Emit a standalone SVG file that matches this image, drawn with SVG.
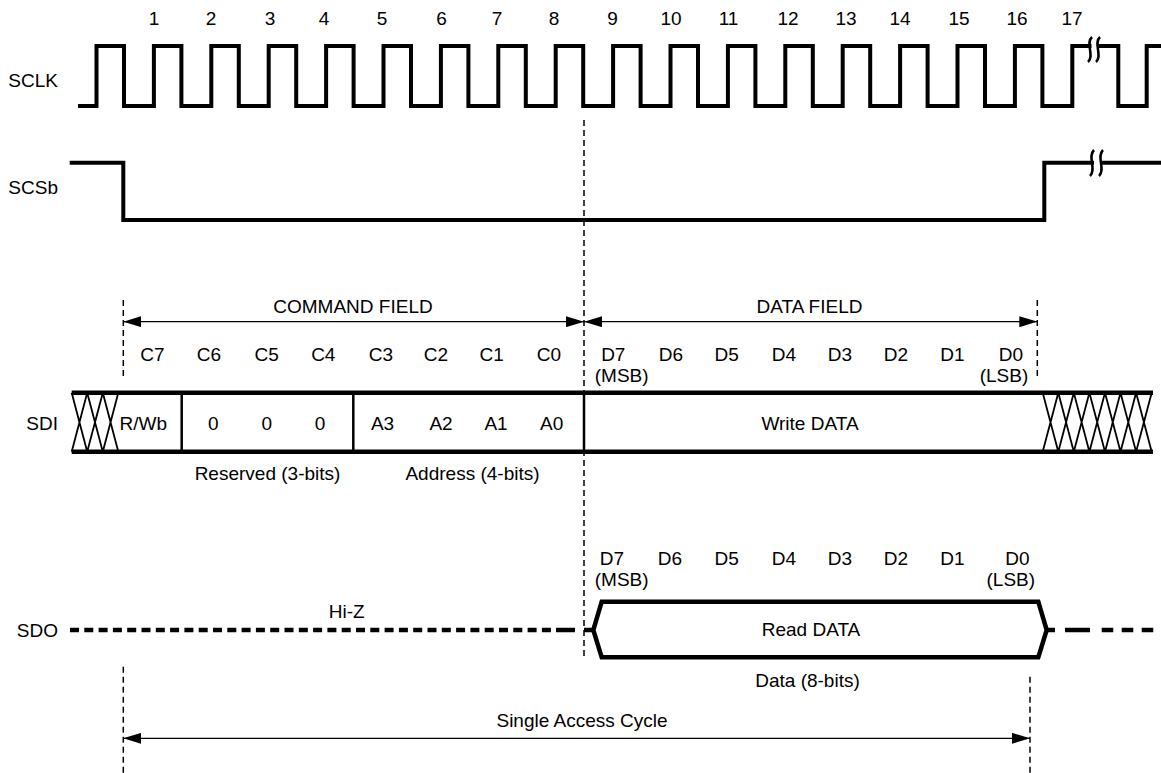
<svg xmlns="http://www.w3.org/2000/svg" width="1161" height="773" viewBox="0 0 1161 773">
<style>
text{font-family:"Liberation Sans",Arial,sans-serif;font-size:19px;fill:#000;text-anchor:middle}
.lbl{text-anchor:end}
.st{text-anchor:start}
.sig{fill:none;stroke:#000;stroke-width:4;stroke-linejoin:miter;stroke-linecap:square}
.bus{fill:none;stroke:#000;stroke-width:4.5}
.div{stroke:#000;stroke-width:2.5}
.hatch{stroke:#000;stroke-width:1.8;fill:none}
.guide{stroke:#000;stroke-width:1.5;stroke-dasharray:6 4;fill:none}
.arr{stroke:#000;stroke-width:1.3;fill:none;marker-start:url(#ah);marker-end:url(#ah)}
.brk{fill:none;stroke:#000;stroke-width:2.5}
</style>
<defs>
<marker id="ah" viewBox="0 0 18 11" refX="18" refY="5.5" markerWidth="18" markerHeight="11" markerUnits="userSpaceOnUse" orient="auto-start-reverse">
<path d="M0,0 L18,5.5 L0,11 Z" fill="#000"/>
</marker>
</defs>
<rect width="1161" height="773" fill="#fff"/>

<g id="clock-numbers">
<text x="154" y="25">1</text><text x="211" y="25">2</text><text x="270" y="25">3</text><text x="324" y="25">4</text>
<text x="382" y="25">5</text><text x="441.5" y="25">6</text><text x="497" y="25">7</text><text x="554" y="25">8</text>
<text x="612.5" y="25">9</text><text x="671" y="25">10</text><text x="728.5" y="25">11</text><text x="788" y="25">12</text>
<text x="846" y="25">13</text><text x="900" y="25">14</text><text x="959" y="25">15</text><text x="1017" y="25">16</text>
<text x="1072" y="25">17</text>
</g>

<g id="sclk">
<text class="lbl" x="58" y="87.3">SCLK</text>
<path class="sig" d="M80,106 H96.5 V46 H124 V106 H153.9 V46 H181.4 V106 H211.3 V46 H238.8 V106 H268.7 V46 H296.2 V106 H326.1 V46 H353.6 V106 H383.5 V46 H411 V106 H440.9 V46 H468.4 V106 H498.3 V46 H525.8 V106 H555.7 V46 H583.2 V106 H613.1 V46 H640.6 V106 H670.5 V46 H698 V106 H727.9 V46 H755.4 V106 H785.3 V46 H812.8 V106 H842.7 V46 H870.2 V106 H900.1 V46 H927.6 V106 H957.5 V46 H985 V106 H1014.9 V46 H1042.4 V106 H1072.3 V46 H1118.3 V106 H1146.7 V46 H1163"/>
<rect x="1091.5" y="40" width="6" height="12" fill="#fff"/>
<path class="brk" d="M1092,37 C1085,43 1095,56 1088,62"/>
<path class="brk" d="M1100,37 C1093,43 1103,56 1096,62"/>
</g>

<g id="scsb">
<text class="lbl" x="58" y="194">SCSb</text>
<path class="sig" d="M71.7,162.7 H123.3 V220 H1044.3 V162.7 H1163"/>
<rect x="1094" y="156" width="6" height="14" fill="#fff"/>
<path class="brk" d="M1094,150 C1087,157 1097,169 1090,176"/>
<path class="brk" d="M1103,150 C1096,157 1106,169 1099,176"/>
</g>

<g id="sdi">
<text class="lbl" x="58" y="429.5">SDI</text>
<path class="bus" d="M71.7,392.7 H1153 M71.7,451.7 H1153"/>
<path class="hatch" d="M71.7,392.7 L87.2,451.7 M71.7,451.7 L87.2,392.7 M87.2,392.7 L102.8,451.7 M87.2,451.7 L102.8,392.7 M102.8,392.7 L118.3,451.7 M102.8,451.7 L118.3,392.7"/>
<path class="hatch" d="M1042.7,392.7 L1058.3,451.7 M1042.7,451.7 L1058.3,392.7 M1058.3,392.7 L1073.8,451.7 M1058.3,451.7 L1073.8,392.7 M1073.8,392.7 L1089.4,451.7 M1073.8,451.7 L1089.4,392.7 M1089.4,392.7 L1105,451.7 M1089.4,451.7 L1105,392.7 M1105,392.7 L1120.5,451.7 M1105,451.7 L1120.5,392.7 M1120.5,392.7 L1136.1,451.7 M1120.5,451.7 L1136.1,392.7 M1136.1,392.7 L1151.7,451.7 M1136.1,451.7 L1151.7,392.7"/>
<path class="div" d="M181.7,392.7 V451.7 M353.3,392.7 V451.7 M584,392.7 V451.7"/>
<text class="st" x="119.5" y="429.5">R/Wb</text>
<text x="213.3" y="429.5">0</text><text x="266.7" y="429.5">0</text><text x="320" y="429.5">0</text>
<text x="382.5" y="429.5">A3</text><text x="441" y="429.5">A2</text><text x="496" y="429.5">A1</text><text x="551.7" y="429.5">A0</text>
<text x="810" y="429.5">Write DATA</text>
<text x="267.5" y="480">Reserved (3-bits)</text>
<text x="472.5" y="480">Address (4-bits)</text>
</g>

<g id="sdi-bits">
<text x="353" y="313.3">COMMAND FIELD</text>
<text x="809.5" y="313.3">DATA FIELD</text>
<text x="152.5" y="360.7">C7</text><text x="209" y="360.7">C6</text><text x="266.7" y="360.7">C5</text><text x="323.3" y="360.7">C4</text>
<text x="381" y="360.7">C3</text><text x="436" y="360.7">C2</text><text x="491.7" y="360.7">C1</text><text x="549" y="360.7">C0</text>
<text x="613.3" y="360.7">D7</text><text x="671" y="360.7">D6</text><text x="726.7" y="360.7">D5</text><text x="784" y="360.7">D4</text>
<text x="840" y="360.7">D3</text><text x="896" y="360.7">D2</text><text x="952.5" y="360.7">D1</text><text x="1011" y="360.7">D0</text>
<text x="621.7" y="382">(MSB)</text><text x="1004" y="382">(LSB)</text>
</g>

<g id="sdo">
<text class="lbl" x="58" y="636.7">SDO</text>
<path class="bus" d="M70,630 H551" stroke-dasharray="9 5.3"/>
<path class="bus" d="M556,630 H575 M584,630 H593.3"/>
<path class="bus" d="M601.7,601.7 H1038.3 L1046.7,630 L1038.3,657.3 H601.7 L593.3,630 Z"/>
<path class="bus" d="M1046.7,630 H1055 M1065,630 H1090 M1101.7,630 H1113.3 M1121.7,630 H1133.3 M1141.7,630 H1153.3"/>
<text x="346.7" y="618.3">Hi-Z</text>
<text x="811" y="636">Read DATA</text>
<text x="807.5" y="687.3">Data (8-bits)</text>
<text x="612" y="565">D7</text><text x="670" y="565">D6</text><text x="726.7" y="565">D5</text><text x="784" y="565">D4</text>
<text x="840" y="565">D3</text><text x="896" y="565">D2</text><text x="952.5" y="565">D1</text><text x="1017.5" y="565">D0</text>
<text x="621.7" y="586">(MSB)</text><text x="1010.8" y="586">(LSB)</text>
</g>

<g id="connectors">
<path class="guide" d="M123.3,300 V378 M584,120 V657 M1037.3,300 V378 M123.3,666.7 V773 M1030,676.7 V773"/>
<path class="arr" d="M123.3,321.7 H584"/>
<path class="arr" d="M584,321.7 H1037.3"/>
<path class="arr" d="M123.3,738.3 H1030"/>
<text x="582" y="726.7">Single Access Cycle</text>
</g>
</svg>
